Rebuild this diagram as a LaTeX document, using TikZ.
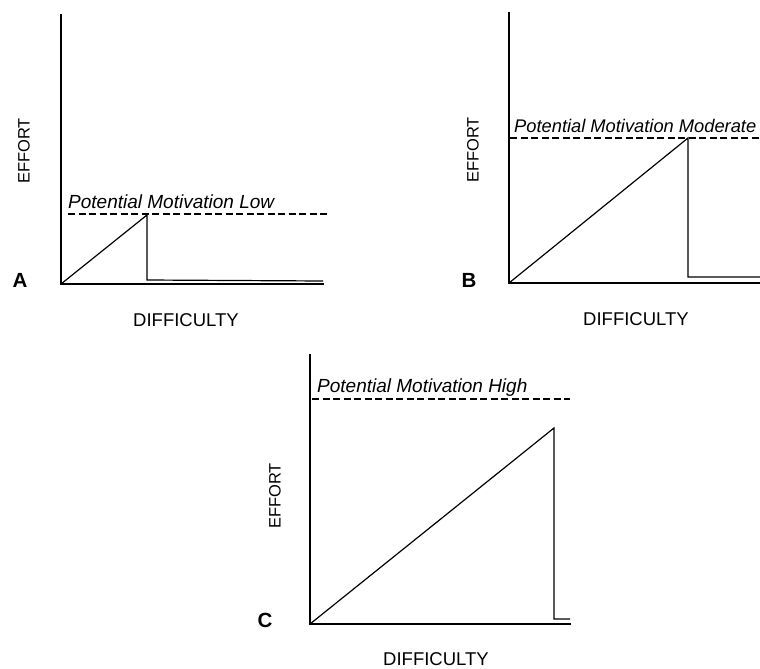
\documentclass[tikz,border=0pt]{standalone}
\usepackage{fontspec}
\setmainfont{Liberation Sans}
\begin{document}
\begin{tikzpicture}[x=1pt,y=-1pt,
  axisline/.style={line width=2.2pt,line cap=rect},
  curve/.style={line width=1.2pt,line join=miter},
  potline/.style={line width=1.4pt,dash pattern=on 7pt off 3.5pt},
  axlabel/.style={font=\fontsize{18.5}{20}\selectfont,inner sep=0pt},
  efflabel/.style={font=\fontsize{16.5}{18}\selectfont,inner sep=0pt,rotate=90},
  potlabel/.style={font=\fontsize{19}{21}\selectfont\itshape,inner sep=0pt,anchor=base west},
  panel/.style={font=\fontsize{20.5}{22}\selectfont\bfseries,inner sep=0pt}]
\useasboundingbox (0,0) rectangle (760,669);

% ---------- Panel A ----------
\coordinate (Atop) at (61,15);
\coordinate (Ao) at (61,284);
\coordinate (Aend) at (323,284);
\coordinate (Apeak) at (147,215);
\coordinate (Adrop) at (147,280);
\coordinate (Atail) at (323,281);
\coordinate (Adl) at (68,214);
\coordinate (Adr) at (328,214);
\draw[axisline] (Atop) -- (Ao) -- (Aend);
\draw[potline] (Adl) -- (Adr);
\draw[curve] (Ao) -- (Apeak) -- (Adrop) -- (Atail);
\node[potlabel] (Apot) at (68,208) {Potential Motivation Low};
\node[efflabel] (Aeff) at (24,151) {EFFORT};
\node[axlabel] (Adif) at (186,320) {DIFFICULTY};
\node[panel] (Alab) at (20,280) {A};

% ---------- Panel B ----------
\coordinate (Btop) at (509,13);
\coordinate (Bo) at (509,283);
\coordinate (Bend) at (762,283);
\coordinate (Bpeak) at (688,138);
\coordinate (Bdrop) at (688,277);
\coordinate (Btail) at (762,277);
\coordinate (Bdl) at (510,138);
\coordinate (Bdr) at (762,138);
\draw[axisline] (Btop) -- (Bo) -- (Bend);
\draw[potline] (Bdl) -- (Bdr);
\draw[curve] (Bo) -- (Bpeak) -- (Bdrop) -- (Btail);
\node[potlabel,font=\fontsize{18.3}{20}\selectfont\itshape] (Bpot) at (514,132) {Potential Motivation Moderate};
\node[efflabel] (Beff) at (473,150) {EFFORT};
\node[axlabel] (Bdif) at (636,319) {DIFFICULTY};
\node[panel] (Blab) at (469,280) {B};

% ---------- Panel C ----------
\coordinate (Ctop) at (310,355);
\coordinate (Co) at (310,624);
\coordinate (Cend) at (570,624);
\coordinate (Cpeak) at (554,428);
\coordinate (Cdrop) at (554,619);
\coordinate (Ctail) at (570,619);
\coordinate (Cdl) at (312,399);
\coordinate (Cdr) at (570,399);
\draw[axisline] (Ctop) -- (Co) -- (Cend);
\draw[potline] (Cdl) -- (Cdr);
\draw[curve] (Co) -- (Cpeak) -- (Cdrop) -- (Ctail);
\node[potlabel] (Cpot) at (317,392) {Potential Motivation High};
\node[efflabel] (Ceff) at (275,496) {EFFORT};
\node[axlabel] (Cdif) at (436,659) {DIFFICULTY};
\node[panel] (Clab) at (265,620) {C};
\end{tikzpicture}
\end{document}
